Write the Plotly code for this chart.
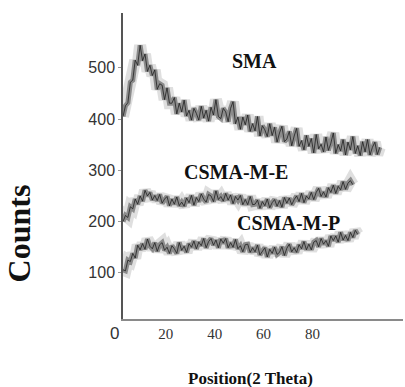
import plotly.graph_objects as go

# X positions: first sample and step (2 Theta)
x_start = 2.5
x_step = 1.0

sma = [405, 426, 432, 472, 476, 515, 505, 544, 514, 527, 493, 505, 485, 496, 458, 469,
       466, 438, 461, 431, 431, 442, 410, 431, 414, 437, 406, 417, 398, 421, 411, 398,
       425, 402, 417, 396, 423, 408, 438, 405, 401, 421, 414, 395, 421, 434, 391, 404,
       380, 404, 389, 408, 376, 391, 377, 405, 367, 387, 379, 366, 391, 368, 384, 355,
       373, 386, 356, 361, 376, 348, 367, 382, 347, 358, 340, 368, 347, 362, 334, 370,
       342, 351, 336, 365, 339, 353, 373, 333, 350, 338, 360, 330, 355, 340, 366, 333,
       348, 329, 356, 336, 360, 330, 345, 355, 331, 345]

csma_m_e = [200, 212, 208, 229, 225, 244, 234, 250, 240, 261, 250, 257, 242, 251, 241, 253,
            236, 244, 249, 231, 244, 234, 248, 231, 238, 230, 246, 237, 251, 232, 247, 239,
            254, 244, 238, 253, 250, 239, 260, 243, 249, 240, 255, 242, 252, 235, 249, 242,
            251, 233, 243, 233, 249, 233, 234, 242, 226, 239, 231, 244, 227, 237, 243, 230,
            241, 228, 247, 236, 246, 233, 243, 250, 239, 255, 237, 250, 244, 257, 243, 257,
            265, 249, 258, 248, 266, 257, 271, 255, 269, 262, 278, 263, 275, 280, 272]

csma_m_p = [106, 104, 125, 122, 138, 129, 154, 145, 157, 146, 166, 152, 147, 159, 142, 155,
            159, 144, 150, 138, 153, 147, 138, 159, 144, 152, 140, 157, 150, 162, 147, 160,
            153, 167, 149, 161, 167, 154, 164, 149, 166, 158, 167, 149, 159, 150, 165, 147,
            153, 141, 155, 156, 140, 149, 141, 154, 135, 143, 149, 131, 146, 138, 150, 136,
            140, 151, 134, 148, 156, 141, 149, 140, 155, 147, 161, 145, 156, 145, 160, 163,
            151, 167, 156, 163, 152, 172, 163, 172, 160, 179, 164, 173, 163, 179, 169, 183, 175]

x_ticks = [20, 40, 60, 80]
y_ticks = [100, 200, 300, 400, 500]
series_labels = ["SMA", "CSMA-M-E", "CSMA-M-P"]
label_pos_x = [56.4, 48.7, 70.0]
label_pos_y = [513, 297, 197]

fig = go.Figure()
for ys in [sma, csma_m_e, csma_m_p]:
    fig.add_trace(go.Scatter(y=ys, x0=x_start, dx=x_step, mode="lines",
                             line=dict(color="rgba(110,110,110,0.22)", width=12),
                             hoverinfo="skip"))
    fig.add_trace(go.Scatter(y=ys, x0=x_start, dx=x_step, mode="lines",
                             line=dict(color="rgba(55,55,55,0.5)", width=5),
                             hoverinfo="skip"))
    fig.add_trace(go.Scatter(y=ys, x0=x_start, dx=x_step, mode="lines",
                             line=dict(color="rgba(25,25,25,0.75)", width=1)))

for t, ax_, ay_ in zip(series_labels, label_pos_x, label_pos_y):
    fig.add_annotation(x=ax_, y=ay_, text="<b>" + t + "</b>", showarrow=False,
                       font=dict(family="Liberation Serif", size=20, color="#111"),
                       xanchor="center", yanchor="middle")

fig.add_annotation(x=-0.029, y=0, xref="paper", yref="paper", text="0", showarrow=False,
                   xanchor="center", yanchor="top", yshift=-3,
                   font=dict(family="Liberation Sans", size=17, color="#333"))
fig.add_annotation(x=-0.37, y=0.281, xref="paper", yref="paper", text="<b>Counts</b>",
                   textangle=-90, showarrow=False, xanchor="center", yanchor="middle",
                   font=dict(family="Liberation Serif", size=32, color="#111"))
fig.add_annotation(x=0.457, y=-0.193, xref="paper", yref="paper",
                   text="<b>Position(2 Theta)</b>", showarrow=False,
                   xanchor="center", yanchor="middle",
                   font=dict(family="Liberation Serif", size=17, color="#111"))

fig.update_layout(
    width=405, height=387,
    margin=dict(l=123, r=2, t=13, b=68),
    paper_bgcolor="white", plot_bgcolor="white",
    showlegend=False,
    xaxis=dict(range=[2.5, 117], showgrid=False, zeroline=False, showline=True,
               linecolor="#8a8a8a", linewidth=2, tickvals=x_ticks, ticks="",
               tickfont=dict(family="Liberation Serif", size=15, color="#333")),
    yaxis=dict(range=[10, 607], showgrid=False, zeroline=False, showline=True,
               linecolor="#555", linewidth=1.5, tickvals=y_ticks, ticks="outside",
               ticklen=3, tickcolor="#999",
               tickfont=dict(family="Liberation Sans", size=16, color="#333")),
)

fig.write_html("out.html", config={"displayModeBar": False},
               post_script="document.body.style.margin='0';")
